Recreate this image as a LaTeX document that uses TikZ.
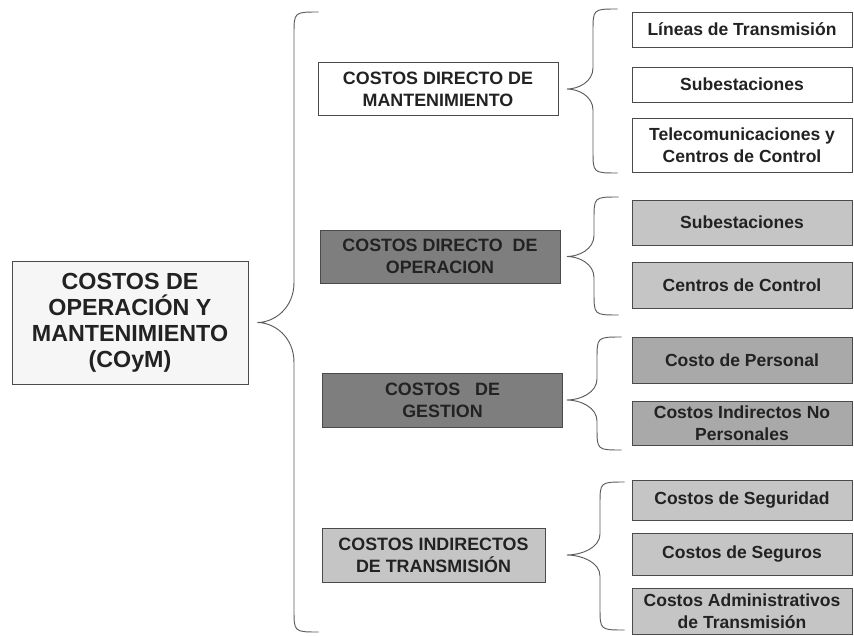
\documentclass[tikz,border=0pt]{standalone}
\usepackage{fontspec}
\setsansfont{Liberation Sans}
\usetikzlibrary{calc}

\definecolor{borde}{HTML}{4A4A4A}
\definecolor{texto}{HTML}{222222}
\definecolor{oscuro}{HTML}{7E7E7E}
\definecolor{medio}{HTML}{A9A9A9}
\definecolor{claro}{HTML}{C5C5C5}
\definecolor{crudo}{HTML}{F6F6F6}

\tikzset{
  caja/.style={draw=borde, line width=0.7pt, text=texto, align=center, inner sep=0pt},
  grupo/.style={caja, minimum width=204pt, minimum height=45pt,
    font=\sffamily\bfseries\fontsize{15.2}{18.5}\selectfont},
  hoja/.style={caja, minimum width=187pt,
    font=\sffamily\bfseries\fontsize{14.9}{18.5}\selectfont},
  llave/.style={draw=borde!90, line width=0.8pt}
}

% llave: #1 alto de la punta, #2 punta, #3 extremo de arriba, #4 extremo de abajo
\newcommand{\llave}[4]{%
  \draw[llave] let \p1=(#2), \p2=(#3), \p3=(#4) in
    (\x2+21pt,\y2) .. controls (\x2,\y2) .. (\x2,\y2-19pt)
    -- (\x2,\y1+#1)
    .. controls (\x2,\y1+0.35*#1) and (\x1+0.45*\x2-0.45*\x1,\y1) .. (\p1)
    .. controls (\x1+0.45*\x2-0.45*\x1,\y1) and (\x3,\y1-0.35*#1) .. (\x3,\y1-#1)
    -- (\x3,\y3+19pt) .. controls (\x3,\y3) .. (\x3+21pt,\y3);
}

\begin{document}
\begin{tikzpicture}[x=0.85pt, y=-0.85pt]
\useasboundingbox (0,0) rectangle (854,636);

\node[caja, fill=crudo, minimum width=200.6pt, minimum height=104.6pt,
  font=\sffamily\bfseries\fontsize{19.8}{22.2}\selectfont]
  (coym) at (130,322.5) {COSTOS DE\\OPERACIÓN Y\\MANTENIMIENTO\\(COyM)};

% segundo nivel
\node[grupo, fill=white] (cdm) at (438,89) {COSTOS DIRECTO DE\\MANTENIMIENTO};
\node[grupo, fill=oscuro] (cdo) at (440,256.5) {COSTOS DIRECTO\ \ DE\\OPERACION};
\node[grupo, fill=oscuro, minimum height=46pt] (cg) at (442.5,400) {COSTOS\ \ \ DE\\GESTION};
\node[grupo, fill=claro, minimum width=189.6pt, minimum height=46pt] (cit) at (433.5,555)
  {COSTOS INDIRECTOS\\DE TRANSMISIÓN};

% tercer nivel
\node[hoja, fill=white, minimum height=29.8pt] (lin) at (742,29.5) {Líneas de Transmisión};
\node[hoja, fill=white, minimum height=29.8pt] (sub) at (742,84.5) {Subestaciones};
\node[hoja, fill=white, minimum height=45.9pt] (tel) at (742,145) {Telecomunicaciones y\\Centros de Control};

\node[hoja, fill=claro, minimum height=38.3pt] (osub) at (742,222.5) {Subestaciones};
\node[hoja, fill=claro, minimum height=39.1pt] (octr) at (742,285) {Centros de Control};

\node[hoja, fill=medio, minimum height=39.1pt] (gper) at (742,360) {Costo de Personal};
\node[hoja, fill=medio, minimum height=37.4pt] (gind) at (742,423) {Costos Indirectos No\\Personales};

\node[hoja, fill=claro, minimum height=34pt] (iseg) at (742,500) {Costos de Seguridad};
\node[hoja, fill=claro, minimum height=35.7pt] (isgr) at (742,554) {Costos de Seguros};
\node[hoja, fill=claro, minimum height=39.1pt] (iadm) at (742,611) {Costos Administrativos\\de Transmisión};

% llaves
\coordinate (eje) at (567,0);
\coordinate (coym-a) at (294,12);
\coordinate (coym-b) at (294,632);
\llave{34pt}{$(coym.east)+(9,0)$}{coym-a}{coym-b}

\coordinate (cdm-a) at (593,9);
\coordinate (cdm-b) at (593,173);
\llave{18pt}{cdm.east -| eje}{cdm-a}{cdm-b}

\coordinate (cdo-a) at (594,197);
\coordinate (cdo-b) at (594,315);
\llave{18pt}{cdo.east -| eje}{cdo-a}{cdo-b}

\coordinate (cg-a) at (597,337);
\coordinate (cg-b) at (597,450);
\llave{18pt}{cg.east -| eje}{cg-a}{cg-b}

\coordinate (cit-a) at (600,482);
\coordinate (cit-b) at (600,630);
\llave{18pt}{cit.east -| eje}{cit-a}{cit-b}
\end{tikzpicture}
\end{document}
